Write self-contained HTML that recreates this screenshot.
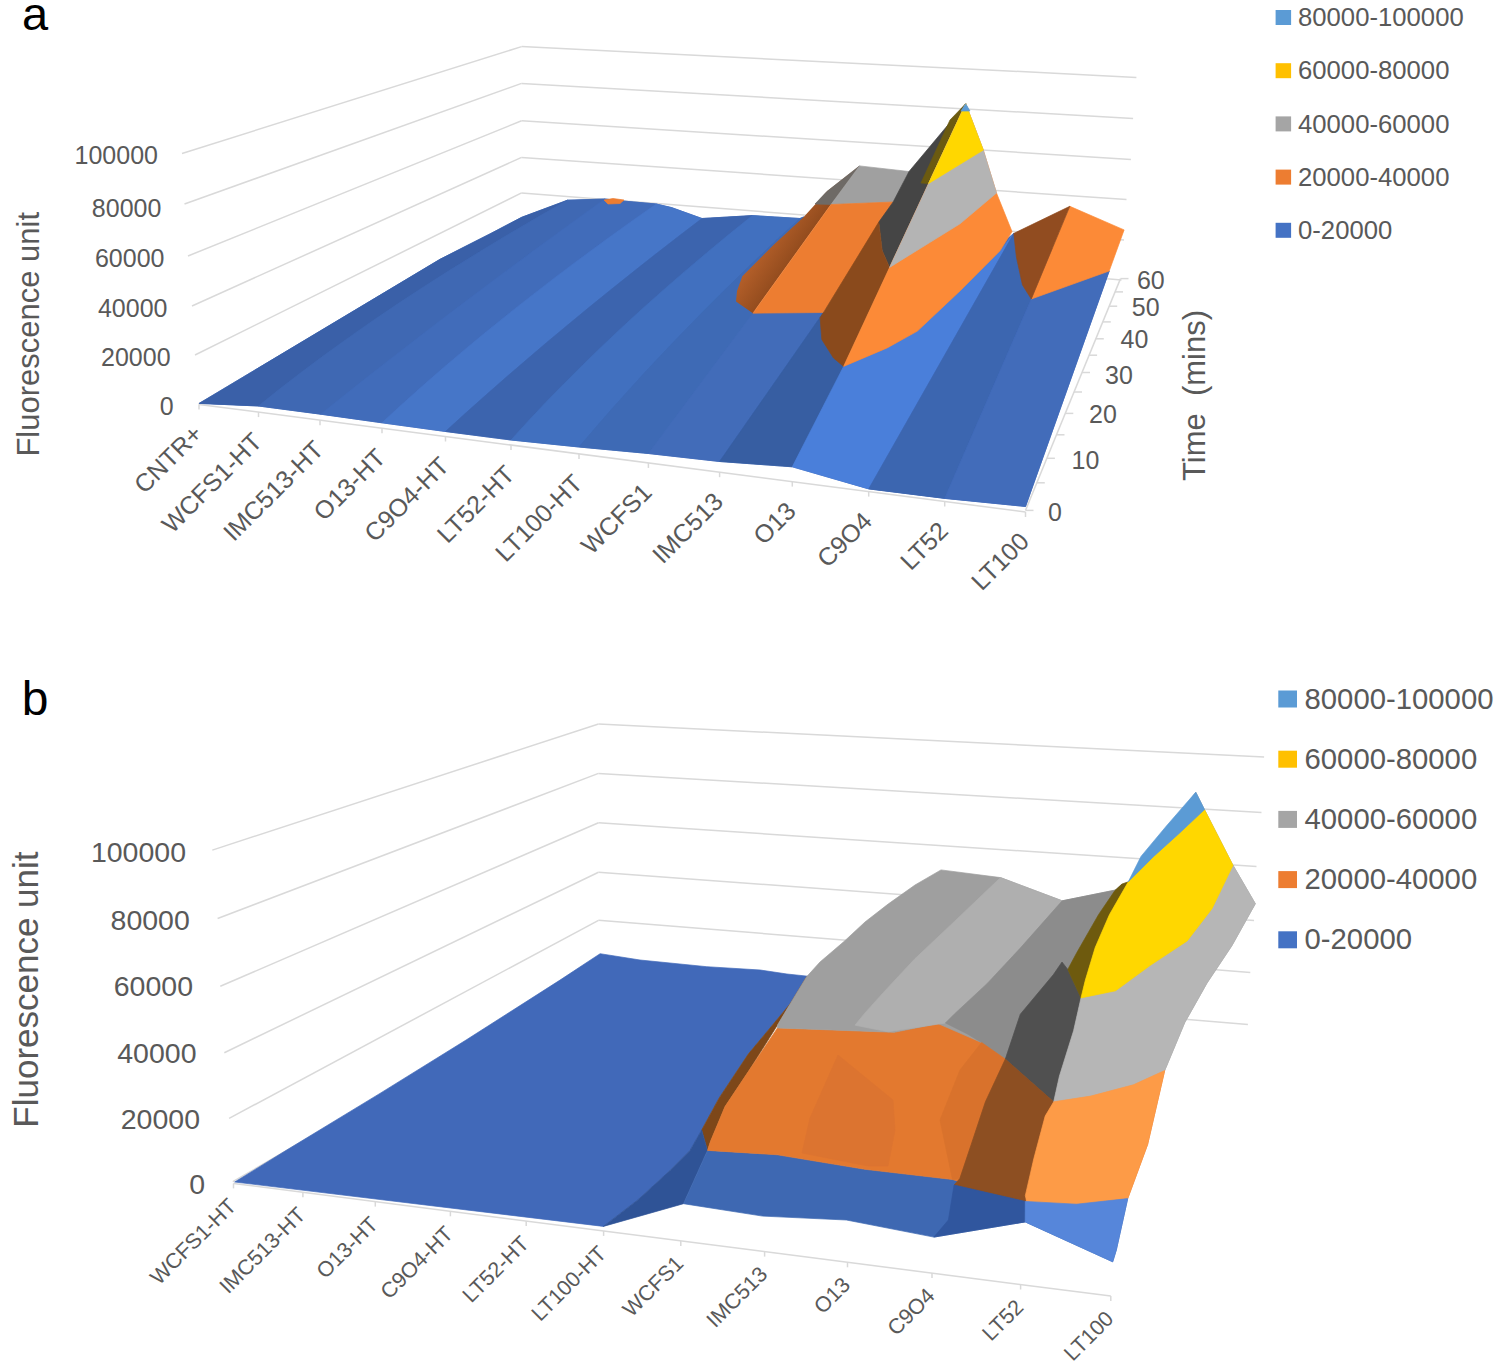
<!DOCTYPE html>
<html><head><meta charset="utf-8"><style>
html,body{margin:0;padding:0;background:#fff;}
svg{display:block;}
text{font-family:"Liberation Sans",sans-serif;}
</style></head><body>
<svg width="1498" height="1371" viewBox="0 0 1498 1371">
<defs><linearGradient id="gA1" gradientUnits="userSpaceOnUse" x1="792" y1="259" x2="765" y2="240"><stop offset="0" stop-color="#934c1e"/><stop offset="1" stop-color="#b6602a"/></linearGradient></defs>
<rect width="1498" height="1371" fill="#fff"/>
<line x1="182.0" y1="153.5" x2="521.6" y2="46.6" stroke="#d9d9d9" stroke-width="1.5"/>
<line x1="521.6" y1="46.6" x2="1136.4" y2="77.4" stroke="#d9d9d9" stroke-width="1.5"/>
<line x1="184.5" y1="204.0" x2="521.6" y2="83.4" stroke="#d9d9d9" stroke-width="1.5"/>
<line x1="521.6" y1="83.4" x2="1133.1" y2="118.6" stroke="#d9d9d9" stroke-width="1.5"/>
<line x1="188.0" y1="256.0" x2="521.6" y2="120.8" stroke="#d9d9d9" stroke-width="1.5"/>
<line x1="521.6" y1="120.8" x2="1130.9" y2="159.5" stroke="#d9d9d9" stroke-width="1.5"/>
<line x1="192.0" y1="306.0" x2="521.6" y2="157.4" stroke="#d9d9d9" stroke-width="1.5"/>
<line x1="521.6" y1="157.4" x2="1126.5" y2="199.6" stroke="#d9d9d9" stroke-width="1.5"/>
<line x1="195.0" y1="355.0" x2="521.6" y2="192.9" stroke="#d9d9d9" stroke-width="1.5"/>
<line x1="521.6" y1="192.9" x2="1124.0" y2="240.0" stroke="#d9d9d9" stroke-width="1.5"/>
<line x1="198.5" y1="404.0" x2="521.6" y2="228.4" stroke="#d9d9d9" stroke-width="1.5"/>
<line x1="521.6" y1="228.4" x2="1121.5" y2="280.0" stroke="#d9d9d9" stroke-width="1.5"/>
<line x1="199.0" y1="404.4" x2="1025.5" y2="512.0" stroke="#d9d9d9" stroke-width="1.5"/>
<line x1="199.0" y1="404.4" x2="199.0" y2="409.4" stroke="#d9d9d9" stroke-width="1.5"/>
<line x1="258.5" y1="412.1" x2="258.5" y2="417.1" stroke="#d9d9d9" stroke-width="1.5"/>
<line x1="320.0" y1="420.2" x2="320.0" y2="425.2" stroke="#d9d9d9" stroke-width="1.5"/>
<line x1="382.0" y1="428.2" x2="382.0" y2="433.2" stroke="#d9d9d9" stroke-width="1.5"/>
<line x1="445.5" y1="436.5" x2="445.5" y2="441.5" stroke="#d9d9d9" stroke-width="1.5"/>
<line x1="511.0" y1="445.0" x2="511.0" y2="450.0" stroke="#d9d9d9" stroke-width="1.5"/>
<line x1="579.0" y1="453.9" x2="579.0" y2="458.9" stroke="#d9d9d9" stroke-width="1.5"/>
<line x1="648.4" y1="462.9" x2="648.4" y2="467.9" stroke="#d9d9d9" stroke-width="1.5"/>
<line x1="719.6" y1="472.2" x2="719.6" y2="477.2" stroke="#d9d9d9" stroke-width="1.5"/>
<line x1="792.3" y1="481.6" x2="792.3" y2="486.6" stroke="#d9d9d9" stroke-width="1.5"/>
<line x1="868.7" y1="491.6" x2="868.7" y2="496.6" stroke="#d9d9d9" stroke-width="1.5"/>
<line x1="944.7" y1="501.5" x2="944.7" y2="506.5" stroke="#d9d9d9" stroke-width="1.5"/>
<line x1="1025.5" y1="512.0" x2="1025.5" y2="517.0" stroke="#d9d9d9" stroke-width="1.5"/>
<line x1="1025.5" y1="510.4" x2="1120.5" y2="278.6" stroke="#d9d9d9" stroke-width="1.5"/>
<line x1="1025.5" y1="510.4" x2="1033.5" y2="510.4" stroke="#d9d9d9" stroke-width="1.5"/>
<line x1="1036.8" y1="482.8" x2="1044.8" y2="482.8" stroke="#d9d9d9" stroke-width="1.5"/>
<line x1="1046.9" y1="458.3" x2="1054.9" y2="458.3" stroke="#d9d9d9" stroke-width="1.5"/>
<line x1="1056.5" y1="434.8" x2="1064.5" y2="434.8" stroke="#d9d9d9" stroke-width="1.5"/>
<line x1="1065.3" y1="413.4" x2="1073.3" y2="413.4" stroke="#d9d9d9" stroke-width="1.5"/>
<line x1="1074.0" y1="392.0" x2="1082.0" y2="392.0" stroke="#d9d9d9" stroke-width="1.5"/>
<line x1="1082.0" y1="372.5" x2="1090.0" y2="372.5" stroke="#d9d9d9" stroke-width="1.5"/>
<line x1="1089.1" y1="355.2" x2="1097.1" y2="355.2" stroke="#d9d9d9" stroke-width="1.5"/>
<line x1="1095.8" y1="338.8" x2="1103.8" y2="338.8" stroke="#d9d9d9" stroke-width="1.5"/>
<line x1="1102.8" y1="321.9" x2="1110.8" y2="321.9" stroke="#d9d9d9" stroke-width="1.5"/>
<line x1="1109.2" y1="306.2" x2="1117.2" y2="306.2" stroke="#d9d9d9" stroke-width="1.5"/>
<line x1="1115.0" y1="291.9" x2="1123.0" y2="291.9" stroke="#d9d9d9" stroke-width="1.5"/>
<line x1="1120.5" y1="278.6" x2="1128.5" y2="278.6" stroke="#d9d9d9" stroke-width="1.5"/>
<polygon points="199.2,403.4 440.0,259.3 490.0,233.9 521.7,217.3 567.5,200.2 604.9,199.0 625.0,201.2 656.3,204.0 671.6,207.6 702.0,218.5 752.4,215.6 800.0,218.5 803.7,216.9 752.9,313.2 823.5,312.5 843.6,366.4 1013.8,233.4 1109.2,271.0 1025.5,506.5 944.7,498.4 868.7,488.9 792.3,466.8 719.6,461.5 648.4,453.5 579.0,447.0 511.0,440.0 445.5,431.5 382.0,422.8 320.7,414.2 258.5,406.0" fill="#4169b7" stroke="#4169b7" stroke-width="0.7" stroke-linejoin="round"/>
<polygon points="199.2,403.4 440.0,259.3 490.0,233.9 521.7,217.3 567.5,200.2 537.5,217.3 508.2,234.5 479.8,251.7 452.1,268.8 425.1,286.0 399.0,303.1 373.6,320.2 349.1,337.4 325.2,354.6 302.2,371.7 280.0,388.8 258.5,406.0" fill="#3a60a8" stroke="#3a60a8" stroke-width="0.7" stroke-linejoin="round"/>
<polygon points="258.5,406.0 280.0,388.8 302.2,371.7 325.2,354.6 349.1,337.4 373.6,320.2 399.0,303.1 425.1,286.0 452.1,268.8 479.8,251.7 508.2,234.5 537.5,217.3 567.5,200.2 604.9,199.0 580.0,216.9 555.3,234.9 530.8,252.8 506.6,270.7 482.6,288.7 458.8,306.6 435.2,324.5 411.9,342.5 388.7,360.4 365.8,378.3 343.2,396.3 320.7,414.2" fill="#3f68b3" stroke="#3f68b3" stroke-width="0.7" stroke-linejoin="round"/>
<polygon points="320.7,414.2 343.2,396.3 365.8,378.3 388.7,360.4 411.9,342.5 435.2,324.5 458.8,306.6 482.6,288.7 506.6,270.7 530.8,252.8 555.3,234.9 580.0,216.9 604.9,199.0 625.0,201.2 656.3,204.0 630.4,222.2 605.0,240.5 580.2,258.7 556.0,276.9 532.3,295.2 509.1,313.4 486.6,331.6 464.5,349.9 443.1,368.1 422.2,386.3 401.8,404.6 382.0,422.8" fill="#416cba" stroke="#416cba" stroke-width="0.7" stroke-linejoin="round"/>
<polygon points="382.0,422.8 401.8,404.6 422.2,386.3 443.1,368.1 464.5,349.9 486.6,331.6 509.1,313.4 532.3,295.2 556.0,276.9 580.2,258.7 605.0,240.5 630.4,222.2 656.3,204.0 671.6,207.6 702.0,218.5 678.8,236.2 655.9,254.0 633.4,271.8 611.2,289.5 589.3,307.2 567.8,325.0 546.5,342.7 525.7,360.5 505.1,378.2 484.9,396.0 465.0,413.7 445.5,431.5" fill="#4676c8" stroke="#4676c8" stroke-width="0.7" stroke-linejoin="round"/>
<polygon points="445.5,431.5 465.0,413.7 484.9,396.0 505.1,378.2 525.7,360.5 546.5,342.7 567.8,325.0 589.3,307.2 611.2,289.5 633.4,271.8 655.9,254.0 678.8,236.2 702.0,218.5 752.4,215.6 729.2,234.3 706.6,253.0 684.5,271.7 663.0,290.4 642.1,309.1 621.7,327.8 601.9,346.5 582.6,365.2 563.9,383.9 545.7,402.6 528.1,421.3 511.0,440.0" fill="#3c64ae" stroke="#3c64ae" stroke-width="0.7" stroke-linejoin="round"/>
<polygon points="511.0,440.0 528.1,421.3 545.7,402.6 563.9,383.9 582.6,365.2 601.9,346.5 621.7,327.8 642.1,309.1 663.0,290.4 684.5,271.7 706.6,253.0 729.2,234.3 752.4,215.6 800.0,218.5 779.4,237.5 759.3,256.6 739.5,275.6 720.1,294.7 701.1,313.7 682.5,332.8 664.3,351.8 646.4,370.8 629.0,389.9 611.9,408.9 595.3,428.0 579.0,447.0" fill="#4170bf" stroke="#4170bf" stroke-width="0.7" stroke-linejoin="round"/>
<polygon points="579.0,447.0 595.3,428.0 611.9,408.9 629.0,389.9 646.4,370.8 664.3,351.8 682.5,332.8 701.1,313.7 720.1,294.7 739.5,275.6 759.3,256.6 779.4,237.5 800.0,218.5 803.7,216.9 752.9,313.2 648.4,453.5" fill="#3e6ab5" stroke="#3e6ab5" stroke-width="0.7" stroke-linejoin="round"/>
<polygon points="648.4,453.5 752.9,313.2 823.5,312.5 719.6,461.5" fill="#426cb9" stroke="#426cb9" stroke-width="0.7" stroke-linejoin="round"/>
<polygon points="719.6,461.5 823.5,312.5 820.1,317.7 821.8,339.5 833.5,358.0 843.6,366.4 792.3,466.8" fill="#375ea2" stroke="#375ea2" stroke-width="0.7" stroke-linejoin="round"/>
<polygon points="792.3,466.8 843.6,366.4 887.2,347.9 917.4,331.1 960.0,290.9 1000.0,250.8 1013.8,233.4 868.7,488.9" fill="#4a7fda" stroke="#4a7fda" stroke-width="0.7" stroke-linejoin="round"/>
<polygon points="868.7,488.9 1013.8,233.4 1016.4,257.0 1022.5,285.0 1031.3,299.0 944.7,498.4" fill="#3c66b0" stroke="#3c66b0" stroke-width="0.7" stroke-linejoin="round"/>
<polygon points="944.7,498.4 1031.3,299.0 1109.2,271.0 1025.5,506.5" fill="#426cba" stroke="#426cba" stroke-width="0.7" stroke-linejoin="round"/>
<polygon points="859.5,165.9 826.9,191.5 803.7,216.9 774.0,244.4 742.3,276.2 737.0,291.0 736.0,301.5 752.9,313.2 831.0,204.5" fill="url(#gA1)" stroke="none" stroke-width="0.7" stroke-linejoin="round"/>
<polygon points="859.5,165.9 826.9,191.5 815.0,204.0 831.0,204.5" fill="#6e6a66" stroke="#6e6a66" stroke-width="0.7" stroke-linejoin="round"/>
<polygon points="859.5,165.9 909.0,171.5 893.1,202.0 831.0,204.5" fill="#a0a0a0" stroke="#a0a0a0" stroke-width="0.7" stroke-linejoin="round"/>
<polygon points="831.0,204.5 893.1,202.0 823.5,312.5 752.9,313.2" fill="#ed7d31" stroke="#ed7d31" stroke-width="0.7" stroke-linejoin="round"/>
<polygon points="965.7,103.8 889.6,267.4 882.2,250.6 878.8,222.1 893.1,202.0 909.0,171.5" fill="#454545" stroke="#454545" stroke-width="0.7" stroke-linejoin="round"/>
<polygon points="965.7,103.8 928.6,183.5 921.0,183.0 950.0,120.0" fill="#6b5a10" stroke="#6b5a10" stroke-width="0.7" stroke-linejoin="round"/>
<polygon points="878.8,222.1 882.2,250.6 889.6,267.4 843.6,366.4 833.5,358.0 821.8,339.5 820.1,317.7 823.5,312.5" fill="#8a4a1c" stroke="#8a4a1c" stroke-width="0.7" stroke-linejoin="round"/>
<polygon points="965.7,103.8 983.3,150.1 996.5,193.0 1012.0,231.6 1000.0,250.8 960.0,290.9 917.4,331.1 887.2,347.9 843.6,366.4" fill="#fc8a37" stroke="#fc8a37" stroke-width="0.7" stroke-linejoin="round"/>
<polygon points="965.7,103.8 983.3,150.1 996.5,193.0 960.0,223.8 889.6,267.4" fill="#b4b4b4" stroke="#b4b4b4" stroke-width="0.7" stroke-linejoin="round"/>
<polygon points="965.7,103.8 983.3,150.1 928.6,183.5" fill="#ffd700" stroke="#ffd700" stroke-width="0.7" stroke-linejoin="round"/>
<polygon points="965.7,103.8 961.0,111.0 970.0,111.0" fill="#5b9bd5" stroke="#5b9bd5" stroke-width="0.7" stroke-linejoin="round"/>
<polygon points="1069.8,206.3 1124.1,229.9 1109.2,271.0 1031.3,299.0" fill="#fc8a37" stroke="#fc8a37" stroke-width="0.7" stroke-linejoin="round"/>
<polygon points="1069.8,206.3 1013.8,233.4 1016.4,257.0 1022.5,285.0 1031.3,299.0" fill="#914c20" stroke="#914c20" stroke-width="0.7" stroke-linejoin="round"/>
<polygon points="604.0,200.0 613.0,198.5 624.0,200.0 620.0,203.5 608.0,204.0" fill="#ed7d31" stroke="#ed7d31" stroke-width="0.7" stroke-linejoin="round"/>
<text x="21.9" y="30.4" font-size="47" text-anchor="start" fill="#000">a</text>
<text x="158.0" y="164.2" font-size="25" text-anchor="end" fill="#595959">100000</text>
<text x="161.4" y="216.6" font-size="25" text-anchor="end" fill="#595959">80000</text>
<text x="164.5" y="267.2" font-size="25" text-anchor="end" fill="#595959">60000</text>
<text x="167.5" y="316.7" font-size="25" text-anchor="end" fill="#595959">40000</text>
<text x="170.6" y="365.7" font-size="25" text-anchor="end" fill="#595959">20000</text>
<text x="173.7" y="414.8" font-size="25" text-anchor="end" fill="#595959">0</text>
<text x="39.2" y="456.6" font-size="31" text-anchor="start" fill="#595959" transform="rotate(-90 39.2 456.6)">Fluorescence unit</text>
<text x="1048.0" y="520.6" font-size="25" text-anchor="start" fill="#595959">0</text>
<text x="1071.5" y="468.5" font-size="25" text-anchor="start" fill="#595959">10</text>
<text x="1089.0" y="422.6" font-size="25" text-anchor="start" fill="#595959">20</text>
<text x="1105.0" y="383.8" font-size="25" text-anchor="start" fill="#595959">30</text>
<text x="1120.5" y="348.0" font-size="25" text-anchor="start" fill="#595959">40</text>
<text x="1131.8" y="316.4" font-size="25" text-anchor="start" fill="#595959">50</text>
<text x="1136.9" y="288.8" font-size="25" text-anchor="start" fill="#595959">60</text>
<text x="1205.0" y="481.0" font-size="31" text-anchor="start" fill="#595959" transform="rotate(-90 1205.0 481.0)">Time  (mins)</text>
<text x="204.0" y="435.4" font-size="25" text-anchor="end" fill="#595959" transform="rotate(-45 204.0 435.4)">CNTR+</text>
<text x="263.5" y="443.1" font-size="25" text-anchor="end" fill="#595959" transform="rotate(-45 263.5 443.1)">WCFS1-HT</text>
<text x="325.0" y="451.2" font-size="25" text-anchor="end" fill="#595959" transform="rotate(-45 325.0 451.2)">IMC513-HT</text>
<text x="387.0" y="459.2" font-size="25" text-anchor="end" fill="#595959" transform="rotate(-45 387.0 459.2)">O13-HT</text>
<text x="450.5" y="467.5" font-size="25" text-anchor="end" fill="#595959" transform="rotate(-45 450.5 467.5)">C9O4-HT</text>
<text x="516.0" y="476.0" font-size="25" text-anchor="end" fill="#595959" transform="rotate(-45 516.0 476.0)">LT52-HT</text>
<text x="584.0" y="484.9" font-size="25" text-anchor="end" fill="#595959" transform="rotate(-45 584.0 484.9)">LT100-HT</text>
<text x="653.4" y="493.9" font-size="25" text-anchor="end" fill="#595959" transform="rotate(-45 653.4 493.9)">WCFS1</text>
<text x="724.6" y="503.2" font-size="25" text-anchor="end" fill="#595959" transform="rotate(-45 724.6 503.2)">IMC513</text>
<text x="797.3" y="512.6" font-size="25" text-anchor="end" fill="#595959" transform="rotate(-45 797.3 512.6)">O13</text>
<text x="873.7" y="522.6" font-size="25" text-anchor="end" fill="#595959" transform="rotate(-45 873.7 522.6)">C9O4</text>
<text x="949.7" y="532.5" font-size="25" text-anchor="end" fill="#595959" transform="rotate(-45 949.7 532.5)">LT52</text>
<text x="1030.5" y="543.0" font-size="25" text-anchor="end" fill="#595959" transform="rotate(-45 1030.5 543.0)">LT100</text>
<rect x="1275.6" y="10.0" width="15.5" height="15" fill="#5b9bd5"/>
<text x="1298.0" y="26.1" font-size="25.7" text-anchor="start" fill="#595959">80000-100000</text>
<rect x="1275.6" y="63.2" width="15.5" height="15" fill="#ffc000"/>
<text x="1298.0" y="79.3" font-size="25.7" text-anchor="start" fill="#595959">60000-80000</text>
<rect x="1275.6" y="116.4" width="15.5" height="15" fill="#a5a5a5"/>
<text x="1298.0" y="132.5" font-size="25.7" text-anchor="start" fill="#595959">40000-60000</text>
<rect x="1275.6" y="169.6" width="15.5" height="15" fill="#ed7d31"/>
<text x="1298.0" y="185.7" font-size="25.7" text-anchor="start" fill="#595959">20000-40000</text>
<rect x="1275.6" y="222.8" width="15.5" height="15" fill="#4472c4"/>
<text x="1298.0" y="238.9" font-size="25.7" text-anchor="start" fill="#595959">0-20000</text>
<text x="21.7" y="714.7" font-size="48" text-anchor="start" fill="#000">b</text>
<line x1="212.3" y1="850.1" x2="598.5" y2="724.0" stroke="#d9d9d9" stroke-width="1.5"/>
<line x1="598.5" y1="724.0" x2="1264.1" y2="756.9" stroke="#d9d9d9" stroke-width="1.5"/>
<line x1="217.6" y1="918.5" x2="598.5" y2="773.4" stroke="#d9d9d9" stroke-width="1.5"/>
<line x1="598.5" y1="773.4" x2="1261.5" y2="812.5" stroke="#d9d9d9" stroke-width="1.5"/>
<line x1="220.3" y1="986.3" x2="598.5" y2="822.8" stroke="#d9d9d9" stroke-width="1.5"/>
<line x1="598.5" y1="822.8" x2="1256.5" y2="866.5" stroke="#d9d9d9" stroke-width="1.5"/>
<line x1="224.3" y1="1052.7" x2="598.5" y2="872.2" stroke="#d9d9d9" stroke-width="1.5"/>
<line x1="598.5" y1="872.2" x2="1254.0" y2="920.6" stroke="#d9d9d9" stroke-width="1.5"/>
<line x1="229.1" y1="1118.4" x2="598.5" y2="920.3" stroke="#d9d9d9" stroke-width="1.5"/>
<line x1="598.5" y1="920.3" x2="1250.3" y2="972.6" stroke="#d9d9d9" stroke-width="1.5"/>
<line x1="232.8" y1="1181.7" x2="598.5" y2="969.7" stroke="#d9d9d9" stroke-width="1.5"/>
<line x1="598.5" y1="969.7" x2="1247.9" y2="1024.6" stroke="#d9d9d9" stroke-width="1.5"/>
<line x1="233.5" y1="1183.4" x2="1110.8" y2="1296.1" stroke="#d9d9d9" stroke-width="1.5"/>
<line x1="233.5" y1="1183.4" x2="233.5" y2="1188.4" stroke="#d9d9d9" stroke-width="1.5"/>
<line x1="302.9" y1="1192.3" x2="302.9" y2="1197.3" stroke="#d9d9d9" stroke-width="1.5"/>
<line x1="375.3" y1="1201.6" x2="375.3" y2="1206.6" stroke="#d9d9d9" stroke-width="1.5"/>
<line x1="450.4" y1="1211.3" x2="450.4" y2="1216.3" stroke="#d9d9d9" stroke-width="1.5"/>
<line x1="526.2" y1="1221.0" x2="526.2" y2="1226.0" stroke="#d9d9d9" stroke-width="1.5"/>
<line x1="603.6" y1="1230.9" x2="603.6" y2="1235.9" stroke="#d9d9d9" stroke-width="1.5"/>
<line x1="680.8" y1="1240.9" x2="680.8" y2="1245.9" stroke="#d9d9d9" stroke-width="1.5"/>
<line x1="764.6" y1="1251.6" x2="764.6" y2="1256.6" stroke="#d9d9d9" stroke-width="1.5"/>
<line x1="847.5" y1="1262.3" x2="847.5" y2="1267.3" stroke="#d9d9d9" stroke-width="1.5"/>
<line x1="932.0" y1="1273.1" x2="932.0" y2="1278.1" stroke="#d9d9d9" stroke-width="1.5"/>
<line x1="1020.6" y1="1284.5" x2="1020.6" y2="1289.5" stroke="#d9d9d9" stroke-width="1.5"/>
<line x1="1110.8" y1="1296.1" x2="1110.8" y2="1301.1" stroke="#d9d9d9" stroke-width="1.5"/>
<polygon points="234.7,1182.0 286.8,1150.0 380.0,1093.4 466.1,1040.0 560.0,980.1 600.1,953.7 640.0,960.0 706.8,966.7 760.2,970.0 786.9,974.0 812.5,976.7 777.5,1019.1 748.3,1054.1 719.2,1097.9 701.7,1130.0 690.0,1150.4 670.2,1170.3 638.1,1199.7 603.4,1226.4" fill="#4169b9" stroke="#4169b9" stroke-width="0.7" stroke-linejoin="round"/>
<polygon points="812.5,976.7 777.5,1019.1 748.3,1054.1 719.2,1097.9 701.7,1130.0 707.5,1150.4 710.4,1141.6 725.0,1106.6 748.3,1071.6 777.5,1025.0 795.0,995.8 806.6,976.8" fill="#7d4719" stroke="#7d4719" stroke-width="0.7" stroke-linejoin="round"/>
<polygon points="701.7,1130.0 690.0,1150.4 670.2,1170.3 638.1,1199.7 603.4,1226.4 683.5,1203.7 707.5,1150.4" fill="#2f5396" stroke="#2f5396" stroke-width="0.7" stroke-linejoin="round"/>
<polygon points="683.5,1203.7 707.5,1150.4 777.5,1154.8 865.0,1169.3 952.5,1179.5 1000.0,1194.1 1025.3,1201.4 1076.5,1204.2 1127.7,1198.6 1116.3,1250.0 1112.7,1261.8 1025.2,1221.9 933.9,1237.1 846.4,1220.0 762.6,1216.1" fill="#3e68b2" stroke="#3e68b2" stroke-width="0.7" stroke-linejoin="round"/>
<polygon points="777.5,1027.9 894.1,1032.3 937.9,1023.5 945.4,1023.0 967.4,1034.0 981.6,1042.5 1005.3,1059.1 1053.7,1101.8 1090.7,1096.1 1133.4,1084.8 1164.7,1070.5 1147.6,1144.5 1127.7,1198.6 1076.5,1204.2 1025.3,1201.4 1000.0,1194.1 952.5,1179.5 865.0,1169.3 777.5,1154.8 707.5,1150.4 710.4,1141.6 725.0,1106.6 748.3,1071.6" fill="#e3792f" stroke="#e3792f" stroke-width="0.7" stroke-linejoin="round"/>
<polygon points="806.6,976.8 820.0,962.0 844.0,941.5 865.0,922.0 888.1,904.1 915.0,885.0 941.0,869.9 1000.5,877.6 1062.2,900.8 1117.2,889.7 1128.3,881.8 1195.8,792.2 1204.5,809.6 1233.0,865.3 1255.3,903.7 1231.8,945.8 1207.0,983.0 1184.7,1022.6 1164.7,1070.5 1133.4,1084.8 1090.7,1096.1 1053.7,1101.8 1005.3,1059.1 981.6,1042.5 937.9,1023.5 894.1,1032.3 777.5,1027.9 777.5,1025.0 795.0,995.8" fill="#9f9f9f" stroke="#9f9f9f" stroke-width="0.7" stroke-linejoin="round"/>
<polygon points="1000.5,877.6 1062.2,900.8 1020.3,948.1 987.3,983.4 954.2,1014.2 945.4,1023.0 888.1,1031.8 855.0,1025.2 863.9,1014.2 883.7,992.2 914.6,959.1 954.2,921.7" fill="#afafaf" stroke="#afafaf" stroke-width="0.7" stroke-linejoin="round"/>
<polygon points="1062.2,900.8 1117.2,889.7 1122.0,884.0 1114.9,890.6 1098.5,914.7 1076.6,953.0 1067.8,969.4 1062.0,962.0 1053.4,974.6 1020.3,1014.2 1005.3,1059.1 981.6,1042.5 967.4,1034.0 945.4,1023.0 954.2,1014.2 987.3,983.4 1020.3,948.1" fill="#8c8c8c" stroke="#8c8c8c" stroke-width="0.7" stroke-linejoin="round"/>
<polygon points="838.0,1055.0 893.0,1100.0 895.0,1130.0 888.0,1166.0 868.0,1166.0 802.0,1153.0 810.0,1118.0" fill="#dc7430" stroke="#dc7430" stroke-width="0.7" stroke-linejoin="round"/>
<polygon points="981.6,1042.5 1005.3,1059.1 985.4,1101.8 971.2,1144.5 959.8,1178.6 952.5,1179.5 940.0,1120.0 960.0,1070.0" fill="#d9722c" stroke="#d9722c" stroke-width="0.7" stroke-linejoin="round"/>
<polygon points="1062.0,962.0 1067.8,969.4 1081.0,997.9 1073.6,1030.7 1059.4,1076.2 1053.7,1101.8 1005.3,1059.1 1020.3,1014.2 1053.4,974.6" fill="#505050" stroke="#505050" stroke-width="0.7" stroke-linejoin="round"/>
<polygon points="1005.3,1059.1 985.4,1101.8 971.2,1144.5 959.8,1178.6 954.1,1185.0 1025.3,1201.4 1033.8,1158.7 1045.2,1116.0 1053.7,1101.8" fill="#8d4f22" stroke="#8d4f22" stroke-width="0.7" stroke-linejoin="round"/>
<polygon points="954.1,1185.0 948.4,1220.0 933.9,1237.1 1025.2,1221.9 1025.3,1201.4" fill="#30569e" stroke="#30569e" stroke-width="0.7" stroke-linejoin="round"/>
<polygon points="1128.3,881.8 1109.4,914.7 1095.2,947.5 1085.3,980.3 1081.0,997.9 1067.8,969.4 1076.6,953.0 1098.5,914.7 1114.9,890.6 1122.0,884.0" fill="#6e5a0e" stroke="#6e5a0e" stroke-width="0.7" stroke-linejoin="round"/>
<polygon points="1081.0,997.9 1115.6,990.8 1150.0,965.6 1187.2,940.9 1212.0,908.7 1233.0,865.3 1255.3,903.7 1231.8,945.8 1207.0,983.0 1184.7,1022.6 1164.7,1070.5 1133.4,1084.8 1090.7,1096.1 1053.7,1101.8 1059.4,1076.2 1073.6,1030.7 1081.0,997.9" fill="#b6b6b6" stroke="#b6b6b6" stroke-width="0.7" stroke-linejoin="round"/>
<polygon points="1053.7,1101.8 1090.7,1096.1 1133.4,1084.8 1164.7,1070.5 1147.6,1144.5 1127.7,1198.6 1076.5,1204.2 1028.1,1207.1 1025.3,1195.7 1033.8,1158.7 1045.2,1116.0" fill="#fd9b47" stroke="#fd9b47" stroke-width="0.7" stroke-linejoin="round"/>
<polygon points="1025.3,1201.4 1076.5,1204.2 1127.7,1198.6 1116.3,1250.0 1112.7,1261.8 1025.2,1221.9" fill="#5686da" stroke="#5686da" stroke-width="0.7" stroke-linejoin="round"/>
<polygon points="1128.3,881.8 1153.7,856.4 1179.0,833.6 1204.5,809.6 1233.0,865.3 1212.0,908.7 1187.2,940.9 1150.0,965.6 1115.6,990.8 1081.0,997.9 1085.3,980.3 1095.2,947.5 1109.4,914.7" fill="#ffd700" stroke="#ffd700" stroke-width="0.7" stroke-linejoin="round"/>
<polygon points="1195.8,792.2 1204.5,809.6 1179.0,833.6 1153.7,856.4 1128.3,881.8 1141.0,856.4 1166.4,826.0" fill="#5b9bd5" stroke="#5b9bd5" stroke-width="0.7" stroke-linejoin="round"/>
<text x="186.0" y="861.6" font-size="28.5" text-anchor="end" fill="#595959">100000</text>
<text x="189.8" y="930.2" font-size="28.5" text-anchor="end" fill="#595959">80000</text>
<text x="193.0" y="996.4" font-size="28.5" text-anchor="end" fill="#595959">60000</text>
<text x="196.5" y="1063.4" font-size="28.5" text-anchor="end" fill="#595959">40000</text>
<text x="200.0" y="1129.0" font-size="28.5" text-anchor="end" fill="#595959">20000</text>
<text x="205.0" y="1193.7" font-size="28.5" text-anchor="end" fill="#595959">0</text>
<text x="37.8" y="1127.7" font-size="35" text-anchor="start" fill="#595959" transform="rotate(-90 37.8 1127.7)">Fluorescence unit</text>
<text x="237.5" y="1207.4" font-size="21.5" text-anchor="end" fill="#595959" transform="rotate(-45 237.5 1207.4)">WCFS1-HT</text>
<text x="306.9" y="1216.3" font-size="21.5" text-anchor="end" fill="#595959" transform="rotate(-45 306.9 1216.3)">IMC513-HT</text>
<text x="379.3" y="1225.6" font-size="21.5" text-anchor="end" fill="#595959" transform="rotate(-45 379.3 1225.6)">O13-HT</text>
<text x="454.4" y="1235.3" font-size="21.5" text-anchor="end" fill="#595959" transform="rotate(-45 454.4 1235.3)">C9O4-HT</text>
<text x="530.2" y="1245.0" font-size="21.5" text-anchor="end" fill="#595959" transform="rotate(-45 530.2 1245.0)">LT52-HT</text>
<text x="607.6" y="1254.9" font-size="21.5" text-anchor="end" fill="#595959" transform="rotate(-45 607.6 1254.9)">LT100-HT</text>
<text x="684.8" y="1264.9" font-size="21.5" text-anchor="end" fill="#595959" transform="rotate(-45 684.8 1264.9)">WCFS1</text>
<text x="768.6" y="1275.6" font-size="21.5" text-anchor="end" fill="#595959" transform="rotate(-45 768.6 1275.6)">IMC513</text>
<text x="851.5" y="1286.3" font-size="21.5" text-anchor="end" fill="#595959" transform="rotate(-45 851.5 1286.3)">O13</text>
<text x="936.0" y="1297.1" font-size="21.5" text-anchor="end" fill="#595959" transform="rotate(-45 936.0 1297.1)">C9O4</text>
<text x="1024.6" y="1308.5" font-size="21.5" text-anchor="end" fill="#595959" transform="rotate(-45 1024.6 1308.5)">LT52</text>
<text x="1114.8" y="1320.1" font-size="21.5" text-anchor="end" fill="#595959" transform="rotate(-45 1114.8 1320.1)">LT100</text>
<rect x="1278.3" y="690.5" width="18.7" height="17" fill="#5b9bd5"/>
<text x="1304.5" y="708.6" font-size="29.3" text-anchor="start" fill="#595959">80000-100000</text>
<rect x="1278.3" y="750.7" width="18.7" height="17" fill="#ffc000"/>
<text x="1304.5" y="768.8" font-size="29.3" text-anchor="start" fill="#595959">60000-80000</text>
<rect x="1278.3" y="810.9" width="18.7" height="17" fill="#a5a5a5"/>
<text x="1304.5" y="829.0" font-size="29.3" text-anchor="start" fill="#595959">40000-60000</text>
<rect x="1278.3" y="871.1" width="18.7" height="17" fill="#ed7d31"/>
<text x="1304.5" y="889.2" font-size="29.3" text-anchor="start" fill="#595959">20000-40000</text>
<rect x="1278.3" y="931.3" width="18.7" height="17" fill="#4472c4"/>
<text x="1304.5" y="949.4" font-size="29.3" text-anchor="start" fill="#595959">0-20000</text>
</svg></body></html>
